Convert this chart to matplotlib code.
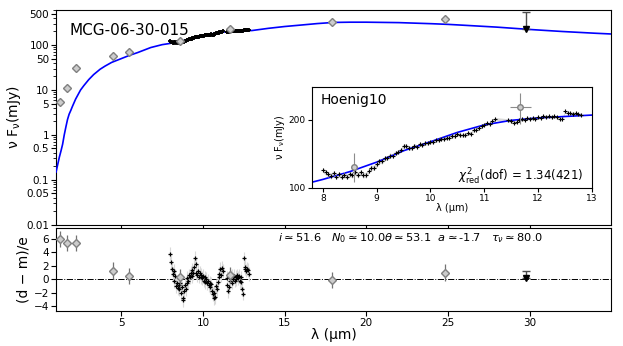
import numpy as np
import matplotlib
matplotlib.use('Agg')
import matplotlib.pyplot as plt
from matplotlib.ticker import FixedLocator, NullLocator, NullFormatter

# model curve (blue)
model_wave = [1.0, 1.1, 1.2, 1.3, 1.4, 1.5, 1.6, 1.7, 1.8, 1.9, 2.0, 2.2, 2.5, 2.7, 3.0,
              3.3, 3.7, 4.0, 4.4, 5.0, 5.5, 6.0, 6.8, 7.5, 7.8, 8.0, 8.5, 9.0, 9.5, 10.0,
              10.5, 11.0, 11.5, 12.0, 12.5, 13.0, 14.0, 15.0, 16.0, 17.0, 18.0, 19.0, 20.0,
              22.0, 24.0, 25.0, 26.0, 28.0, 30.0, 32.0, 34.0, 35.0]
model_flux = [0.15, 0.22, 0.32, 0.44, 0.62, 1.0, 1.5, 2.2, 2.9, 3.5, 4.3, 6.3, 10.0, 12.5, 17,
              22, 29, 34, 41, 50, 59, 68, 88, 102, 106, 109, 118, 130, 146, 160,
              176, 190, 199, 204, 207, 210, 235, 258, 278, 300, 318, 322, 322,
              315, 298, 288, 275, 250, 222, 200, 183, 176]

# photometry
phot_wave = [1.27, 1.64, 2.2, 4.49, 5.49, 8.57, 11.67, 17.9, 24.8]
phot_flux = [5.5, 10.9, 30.8, 57.8, 70.9, 124, 227, 319, 372]
phot_err = [0.4, 0.8, 2.5, 12, 8, 18, 35, 20, 35]
phot_xerr = [0, 0, 0, 0, 0, 0, 0.2, 0, 0]
phot_resid = [6.0, 5.4, 5.4, 1.3, 0.5, 0.3, 0.6, -0.1, 1.0]

# upper limit
ul_wave = [29.8]
ul_flux = [223]
ul_top = [541]
ul_resid = [0.2]
ul_resid_top = [1.3]

# Spitzer spectrum
spec_wave = [8.00, 8.05, 8.10, 8.15, 8.20, 8.25, 8.30, 8.35, 8.40, 8.45, 8.50, 8.55, 8.60,
             8.65, 8.70, 8.75, 8.80, 8.85, 8.90, 8.95, 9.00, 9.05, 9.10, 9.15, 9.20, 9.25,
             9.30, 9.35, 9.40, 9.45, 9.50, 9.55, 9.60, 9.65, 9.70, 9.75, 9.80, 9.85, 9.90,
             9.95, 10.00, 10.05, 10.10, 10.15, 10.20, 10.25, 10.30, 10.35, 10.40, 10.45,
             10.50, 10.55, 10.60, 10.65, 10.70, 10.75, 10.80, 10.85, 10.90, 10.95, 11.00,
             11.05, 11.10, 11.15, 11.20,
             11.45, 11.50, 11.55, 11.60, 11.65, 11.70, 11.75, 11.80, 11.85, 11.90, 11.95,
             12.00, 12.05, 12.10, 12.15, 12.20, 12.25, 12.30, 12.35, 12.40, 12.45, 12.50,
             12.55, 12.60, 12.65, 12.70, 12.75, 12.80]
spec_flux = [120, 117, 115, 113, 116, 112, 115, 112, 114, 112, 115, 114, 117,
             114, 117, 114, 114, 119, 123, 123, 127, 131, 131, 135, 136, 139,
             139, 143, 144, 147, 154, 153, 150, 150, 154, 152, 156, 155, 158,
             158, 160, 160, 163, 163, 165, 165, 167, 167, 170, 169,
             173, 171, 171, 171, 175, 174, 181, 181, 185, 188, 190,
             193, 192, 198, 202,
             199, 197, 194, 196, 199, 202, 200, 204, 202, 204, 202,
             205, 204, 207, 206, 207, 205, 207, 205, 202, 201, 218,
             215, 214, 213, 214, 212, 211]
spec_resid = [3.8, 2.5, 1.5, 0.8, 1.2, -0.3, 0.5, -1.0, -0.5, -1.3, -0.8, -1.5, -0.6,
              -2.0, -1.2, -2.8, -3.1, -1.8, -0.8, -1.4, -0.5, 0.2, -0.3, 0.6, 0.3, 1.0,
              0.5, 1.4, 0.9, 1.8, 3.2, 2.2, 1.0, 0.6, 1.2, 0.4, 0.9, 0.3, 0.7,
              0.2, 0.5, -0.2, 0.3, -0.4, 0.1, -0.6, -0.2, -0.9, -0.5, -1.2,
              -0.7, -1.8, -2.2, -2.8, -2.0, -2.6, -1.0, -1.5, -0.4, 0.3, 0.8,
              1.5, 0.6, 1.7, 1.2,
              0.2, -0.8, -1.8, -1.2, -0.3, 0.4, -0.5, 0.6, 0.1, 0.5, -0.2,
              0.4, 0.0, 0.6, 0.2, 0.5, -0.3, 0.3, -0.4, -1.5, -2.1, 3.1,
              1.6, 1.8, 1.3, 1.6, 1.4, 0.8]
spec_err = 3.0

plt.rcParams['font.family'] = 'DejaVu Sans'
fig = plt.figure(figsize=(6.23, 3.46), dpi=100)
ax = fig.add_axes([0.090, 0.350, 0.891, 0.621])
axr = fig.add_axes([0.090, 0.101, 0.891, 0.240], sharex=ax)
axi = fig.add_axes([0.501, 0.457, 0.449, 0.292])

sw = np.array(spec_wave)
sf = np.array(spec_flux)

# --- top panel
ax.plot(model_wave, model_flux, color='blue', lw=1.2, zorder=3)
ax.plot(spec_wave, spec_flux, '+', color='k', ms=3.5, mew=1.3, zorder=4)
ax.errorbar(phot_wave, phot_flux, yerr=phot_err, fmt='D', ms=4, mfc='0.8', mec='0.5',
            ecolor='0.4', elinewidth=0.8, zorder=5)
ax.errorbar(ul_wave, ul_flux, yerr=[[0], [ul_top[0] - ul_flux[0]]], fmt='v', ms=4,
            color='k', ecolor='0.3', elinewidth=1, capsize=3, zorder=5)
ax.set_yscale('log')
ax.set_ylim(0.01, 600)
ax.set_xlim(1.0, 35.0)
yt = [0.01, 0.05, 0.1, 0.5, 1, 5, 10, 50, 100, 500]
ax.yaxis.set_major_locator(FixedLocator(yt))
ax.set_yticklabels(['0.01', '0.05', '0.1', '0.5', '1', '5', '10', '50', '100', '500'])
ax.yaxis.set_minor_formatter(NullFormatter())
ax.tick_params(labelsize=7.5, length=3.5, pad=1.5)
ax.tick_params(which='minor', length=2)
ax.tick_params(axis='x', labelbottom=False)
ax.set_ylabel('ν F$_\\mathrm{ν}$(mJy)', fontsize=10, labelpad=2)
ax.text(0.025, 0.905, 'MCG-06-30-015', transform=ax.transAxes, fontsize=11, va='center')

# --- inset
axi.fill_between(sw, sf - spec_err, sf + spec_err, color='0.85', lw=0, zorder=1)
axi.errorbar(spec_wave, spec_flux, yerr=spec_err, fmt='+', color='k', ms=3.5, mew=0.8,
             ecolor='0.8', elinewidth=0.6, zorder=3)
axi.plot(model_wave, model_flux, color='blue', lw=1.2, zorder=2)
axi.errorbar(phot_wave, phot_flux, yerr=phot_err, xerr=phot_xerr, fmt='o', ms=4,
             mfc='0.8', mec='0.5', ecolor='0.55', elinewidth=0.8, zorder=4)
axi.set_yscale('log')
axi.set_xlim(7.8, 13.0)
axi.set_ylim(100, 280)
axi.yaxis.set_major_locator(FixedLocator([100, 200]))
axi.set_yticklabels(['100', '200'])
axi.yaxis.set_minor_locator(NullLocator())
axi.set_xticks([8, 9, 10, 11, 12, 13])
axi.tick_params(labelsize=6.5, length=3, pad=1.5)
axi.set_xlabel('λ (µm)', fontsize=7, labelpad=0)
axi.set_ylabel('ν F$_\\mathrm{ν}$(mJy)', fontsize=7, labelpad=1)
axi.text(0.03, 0.87, 'Hoenig10', transform=axi.transAxes, fontsize=10, va='center')
axi.text(0.97, 0.11, r'$\chi^2_\mathrm{red}$(dof) = 1.34(421)', transform=axi.transAxes,
         fontsize=8.5, ha='right', va='center')

# --- residual panel
axr.axhline(0, color='k', ls='-.', lw=0.7)
axr.errorbar(spec_wave, spec_resid, yerr=1.0, fmt='+', color='k', ms=3.5, mew=0.9,
             ecolor='0.85', elinewidth=0.8, zorder=3)
axr.errorbar(phot_wave, phot_resid, yerr=1.2, fmt='D', ms=4, mfc='0.8', mec='0.5',
             ecolor='0.45', elinewidth=0.9, zorder=5)
axr.errorbar(ul_wave, ul_resid, yerr=[[0], [ul_resid_top[0] - ul_resid[0]]], fmt='v',
             ms=4, color='k', ecolor='0.3', elinewidth=1, capsize=3, zorder=5)
axr.set_ylim(-4.7, 7.6)
axr.set_yticks([-4, -2, 0, 2, 4, 6])
axr.set_xticks([5, 10, 15, 20, 25, 30])
axr.tick_params(labelsize=7.5, length=3.5, pad=1.5)
axr.set_ylabel('(d \u2212 m)/e', fontsize=10, labelpad=2)
axr.set_xlabel('λ (µm)', fontsize=10, labelpad=0)
axr.text(0.40, 0.88, r'$i\simeq$51.6   $N_0\simeq$10.0$\theta\simeq$53.1  $a\simeq$-1.7   $\tau_\nu\simeq$80.0',
         transform=axr.transAxes, fontsize=8.2, va='center')
axr.set_xlim(1.0, 35.0)

fig.savefig('out.png', dpi=100)
